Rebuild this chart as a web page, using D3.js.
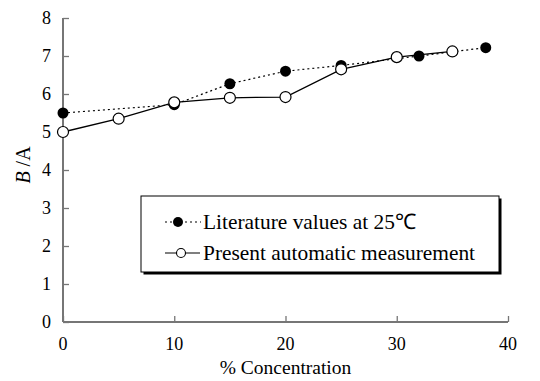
<!DOCTYPE html>
<html>
<head>
<meta charset="utf-8">
<script src="https://cdn.jsdelivr.net/npm/d3@7"></script>
<style>
  body { margin: 0; background: #fff; }
</style>
</head>
<body>
<script>
var width = 540,
    height = 381,
    margin = {top: 18, right: 32, bottom: 59, left: 63};

// literature values at 25 C (filled)
var litX = [0, 10, 15, 20, 25, 32, 38],
    litY = [5.5, 5.72, 6.27, 6.6, 6.75, 7.0, 7.22];

// present automatic measurement (open)
var measX = [0, 5, 10, 15, 20, 25, 30, 35],
    measY = [5.0, 5.35, 5.78, 5.9, 5.92, 6.65, 6.97, 7.12];

var xTicks = [0, 10, 20, 30, 40],
    yTicks = [0, 1, 2, 3, 4, 5, 6, 7, 8];

var legendLabels = ["Literature values at 25\u2103", "Present automatic measurement"];

var lit = litX.map(function (d, i) { return {x: d, y: litY[i]}; }),
    meas = measX.map(function (d, i) { return {x: d, y: measY[i]}; });

var x = d3.scaleLinear().domain([0, 40]).range([margin.left, width - margin.right]);
var y = d3.scaleLinear().domain([0, 8]).range([height - margin.bottom, margin.top]);

var svg = d3.select("body").append("svg")
    .attr("width", width)
    .attr("height", height);

var serif = "'Liberation Serif'";
var axisColor = "#767676";

// x axis, ticks point up into the plot
var xAxis = svg.append("g")
    .attr("transform", "translate(0," + y(0) + ")")
    .call(d3.axisTop(x).tickValues(xTicks).tickSize(6).tickFormat(""));
xAxis.select(".domain").remove();
xAxis.selectAll("line").attr("stroke", axisColor).attr("stroke-width", 1.3);
svg.append("line")
    .attr("x1", x(0)).attr("x2", x(40))
    .attr("y1", y(0)).attr("y2", y(0))
    .attr("stroke", axisColor).attr("stroke-width", 2);

svg.selectAll(".xlab")
    .data(xTicks)
    .enter().append("text")
    .attr("class", "xlab")
    .attr("x", function (d) { return x(d); })
    .attr("y", y(0) + 28)
    .attr("text-anchor", "middle")
    .style("font-family", serif)
    .style("font-size", "18px")
    .text(function (d) { return d; });

// y axis, ticks point right into the plot, labels on the left
var yAxis = svg.append("g")
    .attr("transform", "translate(" + x(0) + ",0)")
    .call(d3.axisRight(y).tickValues(yTicks).tickSize(6).tickFormat(""));
yAxis.select(".domain").remove();
yAxis.selectAll("line").attr("stroke", axisColor).attr("stroke-width", 1.3);
svg.append("line")
    .attr("x1", x(0)).attr("x2", x(0))
    .attr("y1", y(0)).attr("y2", y(8))
    .attr("stroke", axisColor).attr("stroke-width", 2);

svg.selectAll(".ylab")
    .data(yTicks)
    .enter().append("text")
    .attr("class", "ylab")
    .attr("x", x(0) - 12)
    .attr("y", function (d) { return y(d); })
    .attr("dy", "0.32em")
    .attr("text-anchor", "end")
    .style("font-family", serif)
    .style("font-size", "18px")
    .text(function (d) { return d; });

// axis titles
svg.append("text")
    .attr("x", (x(0) + x(40)) / 2)
    .attr("y", height - 7)
    .attr("text-anchor", "middle")
    .style("font-family", serif)
    .style("font-size", "19.5px")
    .text("% Concentration");

var yTitle = svg.append("text")
    .attr("transform", "translate(30,165)rotate(-90)")
    .attr("text-anchor", "middle")
    .style("font-family", serif)
    .style("font-size", "20px");
yTitle.append("tspan").style("font-style", "italic").text("B");
yTitle.append("tspan").text(" /A");

var line = d3.line()
    .x(function (d) { return x(d.x); })
    .y(function (d) { return y(d.y); });

svg.append("path")
    .datum(lit)
    .attr("d", line)
    .attr("fill", "none")
    .attr("stroke", "#000")
    .attr("stroke-width", 1.2)
    .attr("stroke-dasharray", "2,3");

svg.selectAll(".lit")
    .data(lit)
    .enter().append("circle")
    .attr("class", "lit")
    .attr("cx", function (d) { return x(d.x); })
    .attr("cy", function (d) { return y(d.y); })
    .attr("r", 5.5)
    .attr("fill", "#000");

svg.append("path")
    .datum(meas)
    .attr("d", line)
    .attr("fill", "none")
    .attr("stroke", "#000")
    .attr("stroke-width", 1.3);

svg.selectAll(".meas")
    .data(meas)
    .enter().append("circle")
    .attr("class", "meas")
    .attr("cx", function (d) { return x(d.x); })
    .attr("cy", function (d) { return y(d.y); })
    .attr("r", 5.5)
    .attr("fill", "#fff")
    .attr("stroke", "#000")
    .attr("stroke-width", 1.2);

// legend with drop shadow
var lg = svg.append("g").attr("transform", "translate(141,196)");
lg.append("rect")
    .attr("x", 2.5).attr("y", 2.5)
    .attr("width", 358).attr("height", 76)
    .attr("fill", "#000");
lg.append("rect")
    .attr("x", 0).attr("y", 0)
    .attr("width", 358).attr("height", 76)
    .attr("fill", "#fff")
    .attr("stroke", "#000")
    .attr("stroke-width", 1);

var rowY = [26, 57];
lg.append("line")
    .attr("x1", 24).attr("x2", 60).attr("y1", rowY[0]).attr("y2", rowY[0])
    .attr("stroke", "#000").attr("stroke-width", 1.2).attr("stroke-dasharray", "2,3");
lg.append("circle").attr("cx", 37).attr("cy", rowY[0]).attr("r", 5).attr("fill", "#000");
lg.append("line")
    .attr("x1", 24).attr("x2", 59).attr("y1", rowY[1]).attr("y2", rowY[1])
    .attr("stroke", "#000").attr("stroke-width", 1.2);
lg.append("circle").attr("cx", 40).attr("cy", rowY[1]).attr("r", 4.5)
    .attr("fill", "#fff").attr("stroke", "#000").attr("stroke-width", 1.1);

lg.selectAll(".lgtext")
    .data(legendLabels)
    .enter().append("text")
    .attr("class", "lgtext")
    .attr("x", 62)
    .attr("y", function (d, i) { return rowY[i]; })
    .attr("dy", "0.35em")
    .style("font-family", serif)
    .style("font-size", "21.4px")
    .text(function (d) { return d; });
</script>
</body>
</html>
